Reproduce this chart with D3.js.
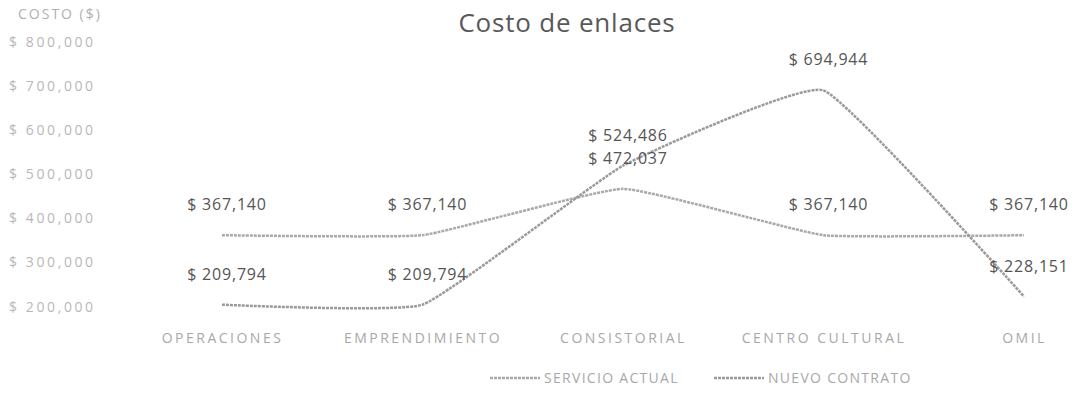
<!DOCTYPE html>
<html>
<head>
<meta charset="utf-8">
<script src="https://cdn.jsdelivr.net/npm/d3@7/dist/d3.min.js"></script>
<style>
  html, body { margin: 0; padding: 0; background: #ffffff; }
  svg { display: block; }
</style>
</head>
<body>
<svg id="chart" width="1082" height="402"></svg>
<script>
const categories = ["OPERACIONES", "EMPRENDIMIENTO", "CONSISTORIAL", "CENTRO CULTURAL", "OMIL"];
const servicioActual = [367140, 367140, 472037, 367140, 367140];
const nuevoContrato = [209794, 209794, 524486, 694944, 228151];
const seriesNames = ["SERVICIO ACTUAL", "NUEVO CONTRATO"];
const yTicks = [200000, 300000, 400000, 500000, 600000, 700000, 800000];
const titleText = "Costo de enlaces";
const yAxisTitle = "COSTO ($)";

const svg = d3.select("#chart");
const font = "'Open Sans', 'Noto Sans', sans-serif";
const fmt = v => "$ " + d3.format(",")(v);

const x = d3.scalePoint().domain(categories).range([222, 1024]);
const y = d3.scaleLinear().domain([200000, 800000]).range([309, 44]);

// title
svg.append("text").attr("x", 567).attr("y", 32).attr("text-anchor", "middle")
  .attr("font-family", font).attr("font-size", 26).attr("letter-spacing", 0.8).attr("fill", "#595959")
  .text(titleText);

// y-axis title
svg.append("text").attr("x", 18).attr("y", 19)
  .attr("font-family", font).attr("font-size", 14).attr("fill", "#b0b0b0")
  .attr("letter-spacing", 2).text(yAxisTitle);

// y axis (labels only)
const yAxis = d3.axisLeft(y).tickValues(yTicks).tickSize(0).tickPadding(0).tickFormat(fmt);
const yg = svg.append("g").attr("transform", "translate(9,0)").call(yAxis);
yg.select(".domain").remove();
yg.selectAll("text").attr("text-anchor", "start").attr("dy", "0.15em")
  .attr("font-family", font).attr("font-size", 14).attr("letter-spacing", 2.6).attr("fill", "#b8b8b8");

// x axis (labels only)
const xAxis = d3.axisBottom(x).tickSize(0).tickPadding(0);
const xg = svg.append("g").attr("transform", "translate(0,330)").call(xAxis);
xg.select(".domain").remove();
xg.selectAll("text").attr("dy", "0.9em")
  .attr("font-family", font).attr("font-size", 14).attr("letter-spacing", 2.5).attr("fill", "#a8a8a8");

const colors = ["#a9a9a9", "#9a9a9a"];
const allSeries = [servicioActual, nuevoContrato];

const line = d3.line()
  .x((d, i) => x(categories[i]))
  .y(d => y(d))
  .curve(d3.curveCardinal.tension(0.65));

allSeries.forEach((s, k) => {
  svg.append("path").datum(s).attr("d", line)
    .attr("fill", "none").attr("stroke", colors[k]).attr("stroke-width", 2.5)
    .attr("stroke-dasharray", "3,1");
});

allSeries.forEach((s, k) => {
  svg.append("g").selectAll("text").data(s).join("text")
    .attr("x", (d, i) => x(categories[i]) + 5)
    .attr("y", d => y(d) - 25)
    .attr("text-anchor", "middle")
    .attr("font-family", font).attr("font-size", 16).attr("letter-spacing", 0.8).attr("fill", "#555555")
    .text(fmt);
});

// legend
const legendItems = [{name: seriesNames[0], x: 490}, {name: seriesNames[1], x: 714}];
legendItems.forEach((it, k) => {
  const g = svg.append("g").attr("transform", `translate(${it.x},378)`);
  g.append("line").attr("x1", 0).attr("x2", 50).attr("y1", 0).attr("y2", 0)
    .attr("stroke", colors[k]).attr("stroke-width", 2.5).attr("stroke-dasharray", "3,1");
  g.append("text").attr("x", 54).attr("y", 5)
    .attr("font-family", font).attr("font-size", 14).attr("letter-spacing", 1.3).attr("fill", "#a8a8a8")
    .text(it.name);
});
</script>
</body>
</html>
